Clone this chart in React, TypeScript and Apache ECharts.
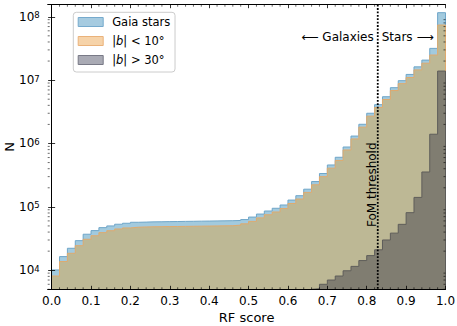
import React, { useEffect, useRef } from 'react';
import * as echarts from 'echarts';

// ---------- data ----------
const binEdges: number[] = Array.from({ length: 51 }, (_, i) => Math.round(i * 2) / 100);

const gaiaStars = [
  1.01e4, 1.64e4, 2.22e4, 2.93e4, 3.7e4, 4.22e4, 4.7e4, 5.0e4, 5.32e4, 5.51e4,
  5.71e4, 5.75e4, 5.8e4, 5.82e4, 5.85e4, 5.87e4, 5.9e4, 5.92e4, 5.95e4, 5.97e4,
  6.0e4, 6.02e4, 6.05e4, 6.1e4, 6.3e4, 6.9e4, 7.7e4, 8.6e4, 9.5e4, 1.07e5,
  1.28e5, 1.5e5, 1.9e5, 2.51e5, 3.36e5, 4.58e5, 6.06e5, 8.8e5, 1.31e6, 2.01e6,
  3.0e6, 4.1e6, 5.47e6, 7.6e6, 9.8e6, 1.23e7, 1.62e7, 2.07e7, 3.17e7, 1.16e8,
];
const lowLatitude = [
  8.1e3, 1.37e4, 1.85e4, 2.44e4, 3.08e4, 3.5e4, 3.92e4, 4.2e4, 4.48e4, 4.65e4,
  4.77e4, 4.82e4, 4.85e4, 4.87e4, 4.89e4, 4.9e4, 4.92e4, 4.94e4, 4.96e4, 4.98e4,
  5.0e4, 5.02e4, 5.04e4, 5.15e4, 5.4e4, 5.9e4, 6.7e4, 7.5e4, 8.3e4, 9.4e4,
  1.13e5, 1.33e5, 1.69e5, 2.23e5, 3.0e5, 4.08e5, 5.4e5, 7.9e5, 1.18e6, 1.81e6,
  2.7e6, 3.7e6, 4.95e6, 6.85e6, 8.8e6, 1.1e7, 1.45e7, 1.85e7, 2.49e7, 7.4e7,
];
const highLatitudeFirstBin = 33;
const highLatitude = [
  5.1e3, 6.0e3, 7.0e3, 8.1e3, 9.8e3, 1.15e4, 1.42e4, 1.7e4, 2.1e4, 3.0e4,
  3.85e4, 5.3e4, 8.1e4, 1.41e5, 3.55e5, 1.4e6, 1.39e7,
];
const seriesNames = ['Gaia stars', '|b| < 10°', '|b| > 30°'];
const xTickValues = [0, 0.1, 0.2, 0.3, 0.4, 0.5, 0.6, 0.7, 0.8, 0.9, 1.0];
const fomThreshold = 0.828;

const X_MIN = -0.01;
const X_MAX = 1.0;
const Y_MIN = 5000;
const Y_MAX = 1.55e8;

const FONT = 'DejaVu Sans';

// minor tick positions
const xMinorTicks: number[] = [];
for (let i = 1; i < 50; i++) if (i % 5 !== 0) xMinorTicks.push(Math.round(i * 2) / 100);
const yMinorTicks: number[] = [];
for (let e = 3; e <= 8; e++) {
  for (let m = 2; m <= 9; m++) {
    const v = m * Math.pow(10, e);
    if (v > Y_MIN * 0.999 && v < Y_MAX) yMinorTicks.push(v);
  }
}

function stepData(values: number[], startBin: number): [number, number][] {
  const pts: [number, number][] = [[binEdges[startBin], Y_MIN]];
  values.forEach((v, k) => pts.push([binEdges[startBin + k], v]));
  const last = startBin + values.length;
  pts.push([binEdges[last], values[values.length - 1]]);
  pts.push([binEdges[last], Y_MIN]);
  return pts;
}

const colors = {
  blueFill: '#a2cade',
  blueEdge: '#6fa6c9',
  khakiFill: '#bdb895',
  orangeEdge: '#dfaa6e',
  grayFill: '#807d71',
  grayEdge: '#5e5d5a',
  legBlueFill: '#a6cbe0',
  legBlueEdge: '#76aacd',
  legOrangeFill: '#f6d3a9',
  legOrangeEdge: '#eab27a',
  legGrayFill: '#a9aab4',
  legGrayEdge: '#787986',
};

function histSeries(name: string, values: number[], start: number, fill: string, edge: string, z: number) {
  return {
    type: 'line',
    name,
    data: stepData(values, start),
    step: 'end',
    symbol: 'none',
    showSymbol: false,
    silent: true,
    z,
    lineStyle: { color: edge, width: 1 },
    itemStyle: { color: edge },
    areaStyle: { color: fill, opacity: 1, origin: 'start' },
  };
}

function buildOption(): any {
  const axisLineStyle = { color: '#000', width: 1 };
  return {
    animation: false,
    textStyle: { fontFamily: FONT },
    grid: {
      left: 47.7,
      right: 11.5,
      top: 4.7,
      bottom: 36.7,
      containLabel: false,
      outerBoundsMode: 'none',
    },
    legend: {
      orient: 'vertical',
      left: 73.3,
      top: 12.3,
      z: 20,
      padding: [3.7, 4.7, 6, 4.4],
      itemWidth: 25,
      itemHeight: 9,
      itemGap: 7,
      icon: 'rect',
      backgroundColor: 'rgba(255,255,255,0.8)',
      borderColor: '#cccccc',
      borderWidth: 1,
      borderRadius: 3,
      selectedMode: false,
      textStyle: {
        fontFamily: FONT,
        fontSize: 11.5,
        color: '#000',
        padding: [0, 0, 0, 4],
        rich: {
          i: { fontFamily: FONT, fontSize: 11.5, fontStyle: 'italic', color: '#000' },
        },
      },
      formatter: (name: string) => name.replace('b', '{i|b}'),
      data: [
        { name: seriesNames[0], itemStyle: { color: colors.legBlueFill, borderColor: colors.legBlueEdge, borderWidth: 1 } },
        { name: seriesNames[1], itemStyle: { color: colors.legOrangeFill, borderColor: colors.legOrangeEdge, borderWidth: 1 } },
        { name: seriesNames[2], itemStyle: { color: colors.legGrayFill, borderColor: colors.legGrayEdge, borderWidth: 1 } },
      ],
    },
    xAxis: [
      {
        type: 'value',
        position: 'bottom',
        min: X_MIN,
        max: X_MAX,
        z: 10,
        name: 'RF score',
        nameLocation: 'middle',
        nameGap: 22,
        nameMoveOverlap: false,
        nameTextStyle: { fontFamily: FONT, fontSize: 13, color: '#000' },
        axisLine: { show: true, lineStyle: axisLineStyle },
        axisTick: { show: true, inside: true, length: 3.5, customValues: xTickValues, lineStyle: { color: '#000', width: 0.8 } },
        axisLabel: {
          show: true,
          customValues: xTickValues,
          formatter: (v: number) => v.toFixed(1),
          fontFamily: FONT,
          fontSize: 12,
          color: '#000',
          margin: 6,
        },
        splitLine: { show: false },
      },
      {
        type: 'value',
        position: 'top',
        min: X_MIN,
        max: X_MAX,
        z: 10,
        axisLine: { show: true, lineStyle: axisLineStyle },
        axisTick: { show: true, inside: true, length: 3.5, customValues: xTickValues, lineStyle: { color: '#000', width: 0.8 } },
        axisLabel: { show: false },
        splitLine: { show: false },
      },
    ],
    yAxis: [
      {
        type: 'log',
        logBase: 10,
        position: 'left',
        min: Y_MIN,
        max: Y_MAX,
        z: 10,
        name: 'N',
        nameLocation: 'middle',
        nameGap: 32,
        nameRotate: 90,
        nameMoveOverlap: false,
        nameTextStyle: { fontFamily: FONT, fontSize: 13, color: '#000' },
        axisLine: { show: true, lineStyle: axisLineStyle },
        axisTick: { show: true, inside: true, length: 3.5, lineStyle: { color: '#000', width: 0.8 } },
        axisLabel: {
          show: true,
          showMinLabel: false,
          showMaxLabel: false,
          margin: 8,
          formatter: (v: number) => {
            const e = Math.log10(v);
            if (Math.abs(e - Math.round(e)) > 1e-6) return '';
            return `{m|10}{e|${Math.round(e)}}`;
          },
          rich: {
            m: { fontFamily: FONT, fontSize: 12, color: '#000', lineHeight: 12, verticalAlign: 'bottom' },
            e: { fontFamily: FONT, fontSize: 8.5, color: '#000', lineHeight: 9, verticalAlign: 'top', padding: [0, 0, 6, 0] },
          },
        },
        splitLine: { show: false },
      },
      {
        type: 'log',
        logBase: 10,
        position: 'right',
        min: Y_MIN,
        max: Y_MAX,
        z: 10,
        axisLine: { show: true, lineStyle: axisLineStyle },
        axisTick: { show: true, inside: true, length: 3.5, lineStyle: { color: '#000', width: 0.8 } },
        axisLabel: { show: false },
        splitLine: { show: false },
      },
    ],
    series: [
      histSeries(seriesNames[0], gaiaStars, 0, colors.blueFill, colors.blueEdge, 2),
      histSeries(seriesNames[1], lowLatitude, 0, colors.khakiFill, colors.orangeEdge, 3),
      histSeries(seriesNames[2], highLatitude, highLatitudeFirstBin, colors.grayFill, colors.grayEdge, 4),
      {
        type: 'custom',
        name: 'yMinorTicks',
        silent: true,
        z: 12,
        data: yMinorTicks.map((v) => [X_MIN, v]),
        renderItem: (_p: any, api: any) => {
          const v = api.value(1);
          const l = api.coord([X_MIN, v]);
          const r = api.coord([X_MAX, v]);
          const st = { stroke: '#000', lineWidth: 0.6 };
          return {
            type: 'group',
            children: [
              { type: 'line', shape: { x1: l[0], y1: l[1], x2: l[0] + 2, y2: l[1] }, style: st },
              { type: 'line', shape: { x1: r[0], y1: r[1], x2: r[0] - 2, y2: r[1] }, style: st },
            ],
          };
        },
      },
      {
        type: 'custom',
        name: 'xMinorTicks',
        silent: true,
        z: 12,
        data: xMinorTicks.map((v) => [v, Y_MIN]),
        renderItem: (_p: any, api: any) => {
          const v = api.value(0);
          const b = api.coord([v, Y_MIN]);
          const t = api.coord([v, Y_MAX]);
          const st = { stroke: '#000', lineWidth: 0.6 };
          return {
            type: 'group',
            children: [
              { type: 'line', shape: { x1: b[0], y1: b[1], x2: b[0], y2: b[1] - 2 }, style: st },
              { type: 'line', shape: { x1: t[0], y1: t[1], x2: t[0], y2: t[1] + 2 }, style: st },
            ],
          };
        },
      },
      {
        type: 'custom',
        name: 'threshold',
        silent: true,
        z: 11,
        data: [[fomThreshold, Y_MAX]],
        renderItem: (_p: any, api: any) => {
          const x = api.value(0);
          const t = api.coord([x, Y_MAX]);
          const b = api.coord([x, Y_MIN]);
          const txt = { fontFamily: FONT, fontSize: 12, fill: '#000' };
          return {
            type: 'group',
            children: [
              {
                type: 'line',
                shape: { x1: t[0], y1: t[1], x2: b[0], y2: b[1] },
                style: { stroke: '#000', lineWidth: 1.8, lineDash: [1.8, 1.6] },
              },
              {
                type: 'text',
                x: t[0] - 4,
                y: t[1] + 32,
                style: { ...txt, text: '⟵ Galaxies', align: 'right', verticalAlign: 'middle' },
              },
              {
                type: 'text',
                x: t[0] + 4,
                y: t[1] + 32,
                style: { ...txt, text: 'Stars ⟶', align: 'left', verticalAlign: 'middle' },
              },
              {
                type: 'text',
                x: t[0] - 6,
                y: b[1] - 104.6,
                rotation: Math.PI / 2,
                style: { ...txt, text: 'FoM threshold', align: 'center', verticalAlign: 'middle' },
              },
            ],
          };
        },
      },
    ],
  };
}

export default function App() {
  const ref = useRef<HTMLDivElement>(null);
  useEffect(() => {
    if (!ref.current) return;
    const chart = echarts.init(ref.current, null, { renderer: 'svg' });
    chart.setOption(buildOption());
    return () => chart.dispose();
  }, []);
  return (
    <div
      ref={ref}
      style={{ position: 'fixed', left: 0, top: 0, width: 457, height: 326, background: '#fff' }}
    />
  );
}
